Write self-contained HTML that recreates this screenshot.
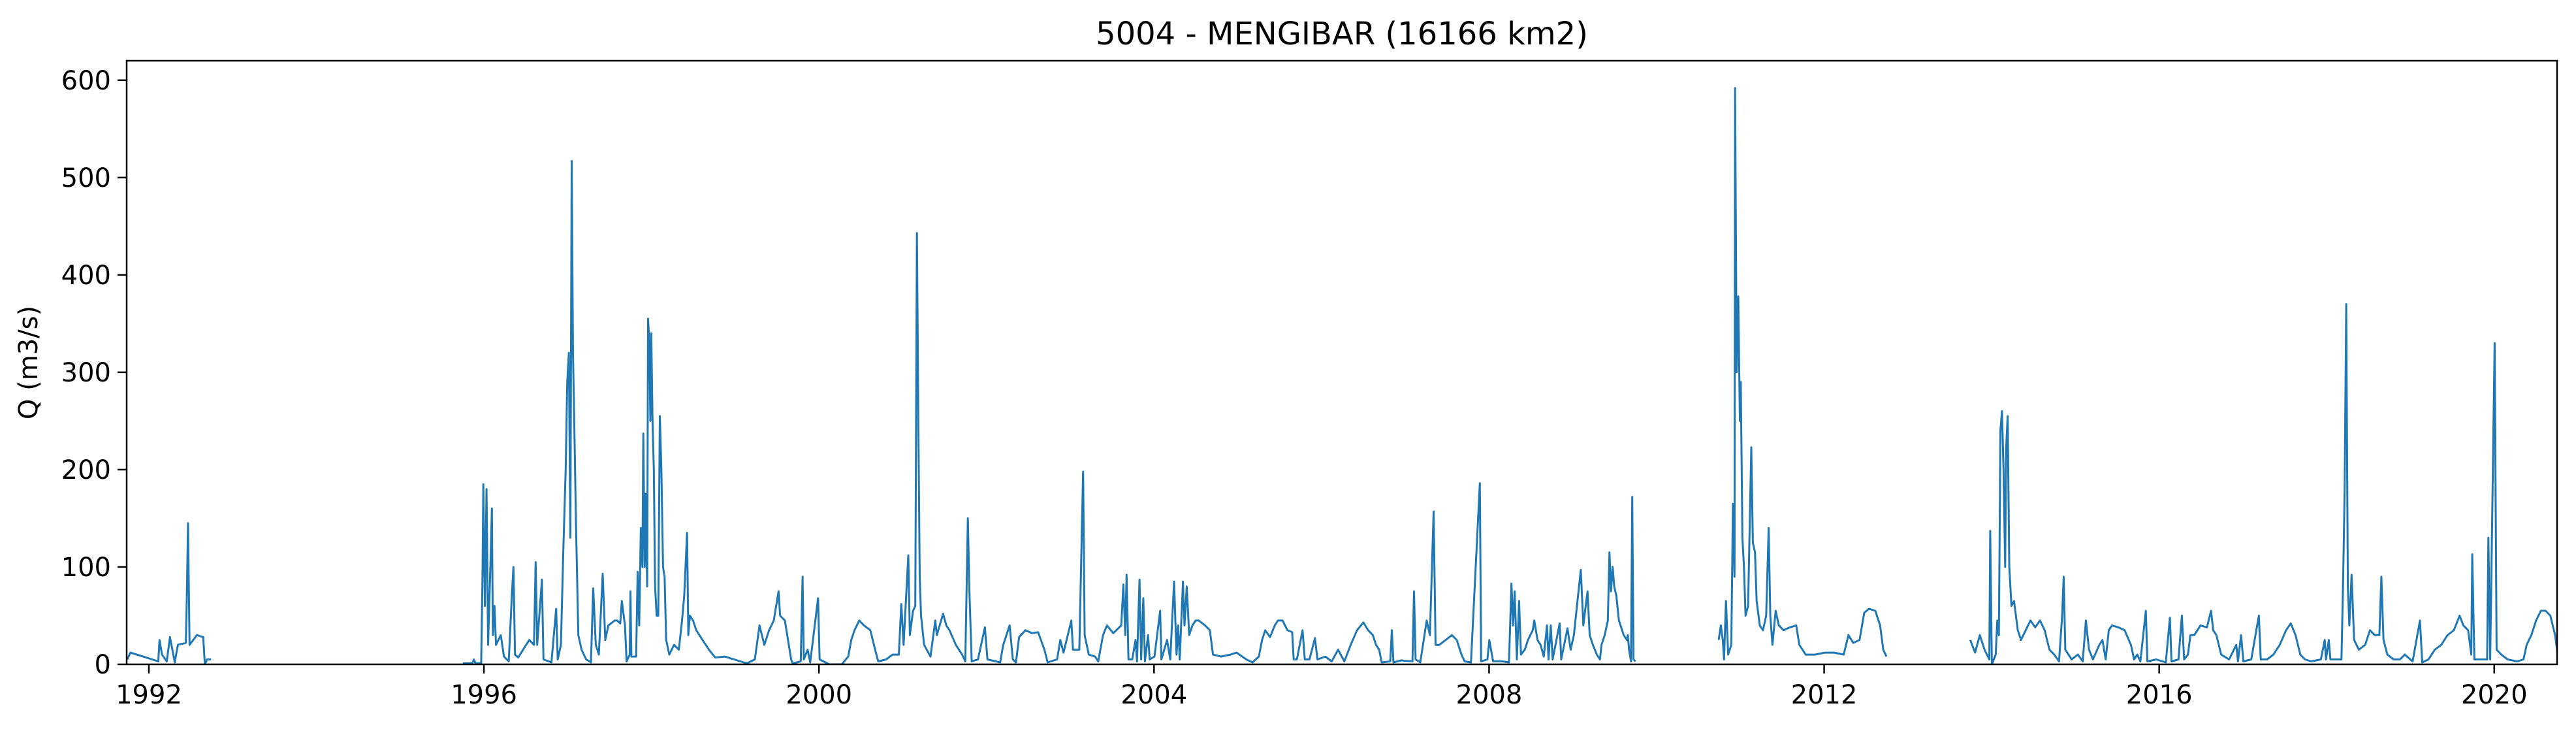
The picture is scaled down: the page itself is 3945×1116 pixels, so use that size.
<!DOCTYPE html>
<html><head><meta charset="utf-8"><style>
html,body{margin:0;padding:0;background:#fff;}
svg{display:block;font-family:"DejaVu Sans","Liberation Sans",sans-serif;}
</style></head><body>
<svg id="chart" width="3945" height="1116" viewBox="0 0 3945 1116" xmlns="http://www.w3.org/2000/svg">
<rect width="3945" height="1116" fill="#fff"/>
<text x="2055" y="68" font-size="48" text-anchor="middle" fill="#000">5004 - MENGIBAR (16166 km2)</text>
<text transform="translate(57,555) rotate(-90)" font-size="40" text-anchor="middle" fill="#000">Q (m3/s)</text>
<g id="plot"></g>
</svg>
<script>
const years = [1991.742,1991.780,1991.931,1992.112,1992.127,1992.157,1992.214,1992.252,1992.309,1992.346,1992.441,1992.452,1992.467,1992.486,1992.573,1992.649,1992.668,1992.694,1992.743,null,
1995.748,1995.861,1995.880,1995.899,1995.967,1995.982,1995.993,1996.012,1996.031,1996.050,1996.080,1996.095,1996.107,1996.126,1996.144,1996.201,1996.239,1996.296,1996.333,1996.352,1996.371,1996.409,1996.541,1996.598,1996.617,1996.636,1996.692,1996.711,1996.806,1996.862,1996.881,1996.919,1996.949,1996.976,1996.995,1997.014,1997.032,1997.048,1997.063,1997.078,1997.100,1997.127,1997.165,1997.221,1997.278,1997.305,1997.335,1997.372,1997.418,1997.448,1997.486,1997.561,
1997.590,1997.628,1997.646,1997.684,1997.703,1997.741,1997.749,1997.760,1997.817,1997.835,1997.854,1997.873,1997.892,1997.903,1997.919,1997.930,1997.949,1997.960,1997.975,1997.987,1997.998,1998.013,1998.028,1998.043,1998.062,1998.081,1998.100,1998.119,1998.138,1998.157,1998.176,1998.213,1998.270,1998.327,1998.365,1998.391,1998.425,1998.440,1998.459,1998.497,1998.535,1998.610,1998.686,1998.761,1998.875,1998.988,1999.139,1999.234,1999.290,1999.347,1999.404,1999.460,1999.517,1999.536,1999.593,1999.630,1999.668,1999.687,1999.782,1999.804,1999.819,1999.865,1999.895,1999.989,2000.008,2000.122,2000.273,2000.349,2000.386,2000.424,2000.481,2000.537,2000.613,2000.670,2000.708,2000.802,2000.878,2000.953,2000.983,2001.010,2001.066,2001.085,2001.123,2001.150,2001.169,2001.187,2001.203,2001.218,2001.255,2001.331,2001.388,2001.407,2001.482,2001.520,2001.558,2001.634,2001.709,2001.747,2001.777,2001.796,2001.823,2001.898,2001.981,2002.011,2002.163,2002.200,2002.276,2002.314,2002.352,2002.389,2002.465,2002.541,2002.616,2002.692,2002.730,2002.843,2002.881,2002.919,2003.013,2003.032,2003.108,2003.153,2003.172,2003.221,2003.296,2003.334,2003.391,
2003.438,2003.513,2003.608,2003.634,2003.657,2003.672,2003.695,2003.740,2003.778,2003.797,2003.827,2003.846,2003.872,2003.891,2003.929,2003.948,2004.005,2004.073,2004.088,2004.156,2004.194,2004.239,2004.269,2004.288,2004.307,2004.345,2004.364,2004.390,2004.420,2004.458,2004.496,2004.534,2004.609,2004.666,2004.704,2004.798,2004.912,2004.987,2005.101,2005.176,2005.252,2005.290,2005.327,2005.384,2005.441,2005.479,2005.535,2005.592,2005.649,2005.667,2005.705,2005.773,2005.800,2005.856,2005.921,2005.951,2006.045,2006.121,2006.197,2006.272,2006.348,2006.423,2006.499,2006.556,2006.612,2006.650,2006.688,2006.718,2006.820,2006.839,2006.858,2006.953,2007.085,2007.104,2007.123,2007.179,2007.255,2007.293,2007.338,2007.361,2007.406,2007.482,2007.557,2007.614,2007.671,2007.708,2007.784,2007.890,2007.905,2007.980,2008.003,2008.048,2008.162,2008.237,2008.267,2008.286,2008.305,2008.332,2008.358,2008.381,2008.426,2008.464,2008.521,2008.540,2008.578,2008.615,2008.653,2008.691,2008.710,2008.736,2008.759,2008.842,2008.861,2008.936,2008.974,2009.012,2009.061,2009.095,2009.125,2009.175,2009.201,2009.239,
2009.286,2009.324,2009.342,2009.380,2009.418,2009.437,2009.456,2009.475,2009.494,2009.520,2009.550,2009.607,2009.645,2009.656,2009.671,2009.694,2009.709,2009.724,2009.747,null,
2010.741,2010.767,2010.790,2010.805,2010.828,2010.854,2010.892,2010.911,2010.930,2010.937,2010.956,2010.975,2010.994,2011.005,2011.024,2011.043,2011.062,2011.092,2011.111,2011.130,2011.149,2011.175,2011.194,2011.232,2011.270,2011.308,2011.338,2011.357,2011.383,2011.421,2011.459,2011.516,2011.591,2011.667,2011.704,2011.780,2011.893,2012.007,2012.120,2012.233,2012.290,2012.347,2012.423,2012.479,2012.536,2012.611,2012.668,2012.706,2012.744,null,
2013.745,2013.802,2013.859,2013.915,2013.972,2013.983,2014.002,2014.048,2014.067,2014.086,2014.104,2014.123,2014.142,2014.161,2014.172,2014.191,2014.210,2014.236,2014.267,2014.312,2014.350,2014.407,2014.463,2014.520,2014.577,2014.633,2014.690,2014.747,2014.804,2014.841,2014.860,2014.879,2014.955,2015.030,2015.087,2015.125,2015.162,
2015.209,2015.285,2015.323,2015.361,2015.398,2015.436,2015.512,2015.587,2015.663,2015.701,2015.738,2015.776,2015.840,2015.859,2015.965,2016.079,2016.128,2016.147,2016.230,2016.271,2016.298,2016.343,2016.373,2016.419,2016.494,2016.570,2016.619,2016.645,2016.683,2016.740,2016.834,2016.921,2016.940,2016.978,2017.005,2017.099,2017.190,2017.212,2017.288,2017.364,2017.439,2017.515,2017.571,2017.628,2017.685,2017.741,2017.817,2017.930,2017.976,2017.991,2018.025,2018.044,2018.176,2018.195,2018.214,2018.233,2018.252,2018.270,2018.297,2018.327,2018.384,2018.459,2018.516,2018.573,2018.629,2018.652,2018.678,2018.724,2018.799,2018.875,2018.932,2019.026,2019.113,2019.140,2019.215,2019.291,2019.367,2019.442,2019.518,2019.586,2019.631,2019.688,2019.726,2019.737,2019.763,2019.858,2019.915,2019.930,2019.952,2020.005,2020.028,2020.084,2020.160,2020.273,2020.349,2020.387,2020.443,2020.500,2020.557,2020.613,2020.670,2020.727,2020.765];
const flows = [5,12,8,3,25,10,3,28,2,20,22,65,145,20,30,28,0,5,5,null,
1,1,5,1,1,85,185,60,180,20,110,160,30,60,20,30,8,3,70,100,10,7,25,20,105,20,87,5,2,57,5,20,120,200,290,320,130,517,320,250,140,30,15,5,2,78,20,10,93,25,40,45,
45,42,65,40,3,10,75,8,8,95,40,140,100,237,100,175,80,355,330,250,340,250,200,80,50,50,255,200,100,90,25,10,20,15,45,70,135,30,50,45,35,25,15,7,8,5,1,5,40,20,35,45,75,50,45,25,5,1,3,90,5,15,2,68,5,0,0,8,25,35,45,40,35,15,3,5,10,10,62,20,112,30,55,60,443,240,90,50,20,8,45,30,52,40,35,20,10,3,150,75,3,5,38,5,2,20,40,5,2,28,35,32,33,15,2,5,25,12,45,15,15,198,30,10,8,3,30,
40,32,40,82,30,92,5,5,25,3,87,5,68,3,30,5,8,55,5,25,5,85,10,40,5,85,40,80,30,40,45,45,40,35,10,8,10,12,5,2,8,25,35,28,40,45,45,35,33,5,5,35,5,5,27,5,8,3,15,3,20,35,43,35,30,20,15,2,3,35,2,4,3,75,5,2,45,30,157,20,20,25,30,25,10,3,2,186,3,5,25,3,3,2,83,40,75,5,65,10,15,25,35,45,25,20,8,40,5,40,5,42,5,37,15,30,70,97,40,75,30,20,
10,5,20,30,45,115,75,100,80,70,45,30,25,30,15,3,172,5,3,null,
25,40,25,5,65,10,20,165,90,592,300,378,250,290,130,100,50,60,140,223,125,115,65,40,35,50,140,50,20,55,40,35,38,40,20,10,10,12,12,10,30,22,25,53,57,55,40,15,8,null,
25,12,30,15,5,137,0,10,45,30,240,260,200,100,220,255,100,60,65,35,25,35,45,38,45,35,15,10,3,50,90,15,5,10,3,45,15,
5,20,25,5,35,40,38,35,20,5,10,3,55,3,5,2,48,3,5,50,5,10,30,30,40,38,55,35,30,10,5,20,3,30,3,5,50,5,5,10,20,35,42,30,10,5,3,5,25,5,25,5,5,80,180,370,80,40,92,25,15,20,35,30,30,90,25,10,5,5,10,3,45,2,5,15,20,30,35,50,40,35,10,113,5,5,5,130,5,330,15,10,5,3,5,20,30,45,55,55,50,30,5];
const yTicks = [0,100,200,300,400,500,600];
const xTicks = [1992,1996,2000,2004,2008,2012,2016,2020];

const L=194, R=3916, T=93, B=1017;
const xMin=1991.735, xMax=2020.75, yMin=0, yMax=620;
function sx(v){return L+(v-xMin)/(xMax-xMin)*(R-L);}
function sy(v){return B-(v-yMin)/(yMax-yMin)*(B-T);}
const NS='http://www.w3.org/2000/svg';
const g=document.getElementById('plot');
function mk(tag,attrs){const e=document.createElementNS(NS,tag);for(const k in attrs)e.setAttribute(k,attrs[k]);return e;}

// series
let d='', pen=false;
for(let i=0;i<years.length;i++){
  if(years[i]===null||flows[i]===null){pen=false;continue;}
  d+=(pen?'L':'M')+sx(years[i]).toFixed(1)+' '+sy(flows[i]).toFixed(1);
  pen=true;
}
const clip=mk('clipPath',{id:'clipP'});
clip.appendChild(mk('rect',{x:L,y:T,width:R-L,height:B-T}));
g.appendChild(clip);
const line=mk('path',{d:d,fill:'none',stroke:'#1f77b4','stroke-width':3,'stroke-linejoin':'round','clip-path':'url(#clipP)'});


g.appendChild(line);

// y ticks
yTicks.forEach(v=>{
  const y=sy(v);
  const t=mk('line',{x1:L-14,x2:L,y1:y,y2:y,stroke:'#000','stroke-width':2.5});
  
  
  g.appendChild(t);
  const lb=mk('text',{x:L-24,y:y+14,'font-size':40,'text-anchor':'end',fill:'#000'});
  lb.textContent=v;
  
  
  g.appendChild(lb);
});
// x ticks
xTicks.forEach(v=>{
  const x=sx(v);
  const t=mk('line',{x1:x,x2:x,y1:B,y2:B+14,stroke:'#000','stroke-width':2.5});
  
  
  g.appendChild(t);
  const lb=mk('text',{x:x,y:B+60,'font-size':40,'text-anchor':'middle',fill:'#000'});
  lb.textContent=v;
  
  
  g.appendChild(lb);
});
// frame
const fr=mk('rect',{x:L,y:T,width:R-L,height:B-T,fill:'none',stroke:'#000','stroke-width':2.5});


g.appendChild(fr);
</script>
</body></html>
